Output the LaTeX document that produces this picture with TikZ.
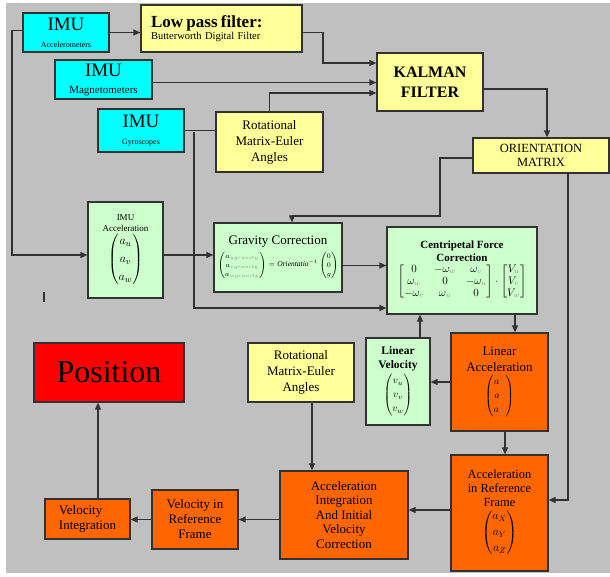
\documentclass[tikz,border=0pt]{standalone}
\usepackage{amsmath}
\usepackage{fontspec}
\setmainfont{Liberation Serif}
\usetikzlibrary{arrows.meta}
\definecolor{bg_grey}{RGB}{192,192,192}
\definecolor{imu_cyan}{RGB}{0,255,255}
\definecolor{light_yellow}{RGB}{255,255,153}
\definecolor{light_green}{RGB}{204,255,204}
\definecolor{dark_orange}{RGB}{255,102,0}
\definecolor{pos_red}{RGB}{255,0,0}
\definecolor{line_grey}{RGB}{50,50,50}
\definecolor{sub_grey}{RGB}{140,140,140}
\newcommand{\gsub}[1]{_{\textcolor{sub_grey}{#1}}}

\begin{document}
\begin{tikzpicture}[x=1pt, y=-1pt,
    box/.style={draw=line_grey, line width=1.2pt, align=center, inner sep=1pt, text=black}]
    \useasboundingbox (0,0) rectangle (610,576);
    \fill[bg_grey] (6,3) rectangle (610,573);

        % sensors and filters
        \node[box, fill=imu_cyan, minimum width=86pt, minimum height=39pt, font=\fontsize{19}{17}\selectfont] (imuacc) at (66,32.5) {IMU\\\fontsize{8}{10}\selectfont Accelerometers};
        \node[box, fill=light_yellow, minimum width=161pt, minimum height=47pt, text width=141pt, inner xsep=10pt, align=left] (lowpass) at (221.5,28.5) {\fontsize{17}{18}\selectfont\bfseries Low pass filter:\\\fontsize{10.5}{13}\selectfont\mdseries Butterworth Digital Filter};
        \node[box, fill=imu_cyan, minimum width=97pt, minimum height=39pt, font=\fontsize{19}{17}\selectfont] (imumag) at (103.5,79.5) {IMU\\\fontsize{11}{13}\selectfont Magnetometers};
        \node[box, fill=imu_cyan, minimum width=86pt, minimum height=43pt, font=\fontsize{19}{17}\selectfont] (imugyro) at (141,130.5) {IMU\\\fontsize{8}{10}\selectfont Gyroscopes};
        \node[box, fill=light_yellow, minimum width=107pt, minimum height=60pt, font=\fontsize{13}{16}\selectfont] (rottop) at (269.5,142) {Rotational\\Matrix-Euler\\Angles};
        \node[box, fill=light_yellow, minimum width=106pt, minimum height=58pt, font=\fontsize{16}{20}\selectfont\bfseries] (kalman) at (430,82) {KALMAN\\FILTER};
        \node[box, fill=light_yellow, minimum width=136pt, minimum height=35pt, font=\fontsize{12.5}{14.5}\selectfont] (orient) at (541,155.5) {ORIENTATION\\MATRIX};

        % corrections
        \node[box, fill=light_green, minimum width=75pt, minimum height=96pt, font=\fontsize{9}{11}\selectfont] (imuaccel) at (125.5,250) {IMU\\Acceleration\\[1pt]\fontsize{13}{15}\selectfont $\begin{pmatrix} a_u\\[3pt] a_v\\[3pt] a_w \end{pmatrix}$};
        \node[box, fill=light_green, minimum width=128pt, minimum height=69pt, font=\fontsize{13}{15}\selectfont] (gravity) at (278,257.5) {Gravity Correction\\[3pt]\fontsize{7.5}{9}\selectfont $\begin{pmatrix} a\gsub{ugravity}\\ a\gsub{vgravity}\\ a\gsub{wgravity} \end{pmatrix} = \mathit{Orientatio}^{-1}\begin{pmatrix} 0\\ 0\\ g \end{pmatrix}$};
        \node[box, fill=light_green, minimum width=150pt, minimum height=87pt, font=\fontsize{11}{13}\selectfont\bfseries] (centri) at (462,270.5) {Centripetal Force\\Correction\\[1pt]\mdseries\fontsize{10.5}{12}\selectfont $\begin{bmatrix} 0 & -\omega\gsub{w} & \omega\gsub{v}\\ \omega\gsub{w} & 0 & -\omega\gsub{u}\\ -\omega\gsub{v} & \omega\gsub{u} & 0 \end{bmatrix}\cdot\begin{bmatrix} V\gsub{u}\\ V\gsub{v}\\ V\gsub{w} \end{bmatrix}$};

        % integration chain
        \node[box, fill=light_green, minimum width=64pt, minimum height=87pt, font=\fontsize{11.5}{14}\selectfont\bfseries] (linvel) at (398,381.5) {Linear\\Velocity\\[2pt]\mdseries\fontsize{10}{12}\selectfont $\begin{pmatrix} v_u\\[2pt] v_v\\[2pt] v_w \end{pmatrix}$};
        \node[box, fill=dark_orange, minimum width=97pt, minimum height=98pt, font=\fontsize{13}{16}\selectfont] (linacc) at (499.5,382) {Linear\\Acceleration\\[2pt]\fontsize{10}{12}\selectfont $\begin{pmatrix} a\gsub{u}\\[2pt] a\gsub{v}\\[2pt] a\gsub{w} \end{pmatrix}$};
        \node[box, fill=light_yellow, minimum width=106pt, minimum height=59pt, font=\fontsize{13}{16}\selectfont] (rotbot) at (301,372.5) {Rotational\\Matrix-Euler\\Angles};
        \node[box, fill=dark_orange, minimum width=97pt, minimum height=116pt, font=\fontsize{12.5}{14}\selectfont] (accref) at (499.5,513) {Acceleration\\in Reference\\Frame\\[2pt]\fontsize{12}{14}\selectfont $\begin{pmatrix} a_X\\[2pt] a_Y\\[2pt] a_Z \end{pmatrix}$};
        \node[box, fill=dark_orange, minimum width=128pt, minimum height=88pt, font=\fontsize{13}{14.5}\selectfont] (accint) at (344,515) {Acceleration\\Integration\\And Initial\\Velocity\\Correction};
        \node[box, fill=pos_red, minimum width=150pt, minimum height=59pt, font=\fontsize{32}{34}\selectfont] (position) at (109,372.5) {Position};
        \node[box, fill=dark_orange, minimum width=86pt, minimum height=59pt, font=\fontsize{13}{15}\selectfont] (velref) at (195,519.5) {Velocity in\\Reference\\Frame};
        \node[box, fill=dark_orange, minimum width=85pt, minimum height=40pt, align=left, font=\fontsize{13}{15}\selectfont] (velint) at (87.5,519) {Velocity\\Integration};

        \coordinate (kin) at (323,63);
        \coordinate (gyrosplit) at (194,132);
        \coordinate (accdown) at (12,255);
        \coordinate (orientdown) at (440,216);

    \begin{scope}[draw=line_grey, line width=1.2pt, >={Triangle[length=7pt,width=6pt]}]
        \draw [->] (imuacc.east) -- (imuacc.east -| lowpass.west);
        \draw [->] (lowpass.east |- imuacc.east) -| (kin) -- (kin -| kalman.west);
        \draw [->] ([yshift=-3pt]imumag.east) -- ([yshift=-3pt]imumag.east -| kalman.west);
        \draw [->] (rottop.north) |- ([yshift=-11pt]kalman.west);
        \draw [->] ([yshift=-7pt]kalman.east) -| ([xshift=6pt]orient.north);
        \draw (imugyro.east) -- (imugyro.east -| rottop.west);
        \draw [->] (gyrosplit) |- ([yshift=-37.5pt]centri.west);
        \draw [->] ([yshift=2pt]imuacc.west) -| (accdown) -- (accdown -| imuaccel.west);
        \draw [->] ([yshift=-5pt]imuaccel.east) -- ([yshift=-5pt]imuaccel.east -| gravity.west);
        \draw [->] ([yshift=-8pt]gravity.east) -- ([yshift=-8pt]gravity.east -| centri.west);
        \draw [->] ([yshift=-2.5pt]orient.west) -| (orientdown) -| ([xshift=14pt]gravity.north);
        \draw [->] ([xshift=15.5pt]linacc.north |- centri.south) -- ([xshift=15.5pt]linacc.north);
        \draw [->] (linacc.west) -- (linacc.west -| linvel.east);
        \draw [->] ([xshift=22pt]linvel.north) -- ([xshift=22pt]linvel.north |- centri.south);
        \draw [->] ([xshift=5.5pt]linacc.south) -- ([xshift=5.5pt]accref.north);
        \draw [->] ([xshift=27pt]orient.south) |- ([yshift=13pt]accref.east);
        \draw [->] ([yshift=3pt]accref.west) -- ([yshift=3pt]accref.west -| accint.east);
        \draw [->] ([xshift=11pt]rotbot.south) -- ([xshift=11pt]rotbot.south |- accint.north);
        \draw [->] (velref.east -| accint.west) -- (velref.east);
        \draw [->] (velref.west) -- (velref.west -| velint.east);
        \draw [->] ([xshift=10.5pt]velint.north) -- ([xshift=10.5pt]velint.north |- position.south);
    \end{scope}

        % stray cursor mark
        \draw[line_grey, line width=1.3pt] (44,292) -- (44,302);
\end{tikzpicture}
\end{document}
